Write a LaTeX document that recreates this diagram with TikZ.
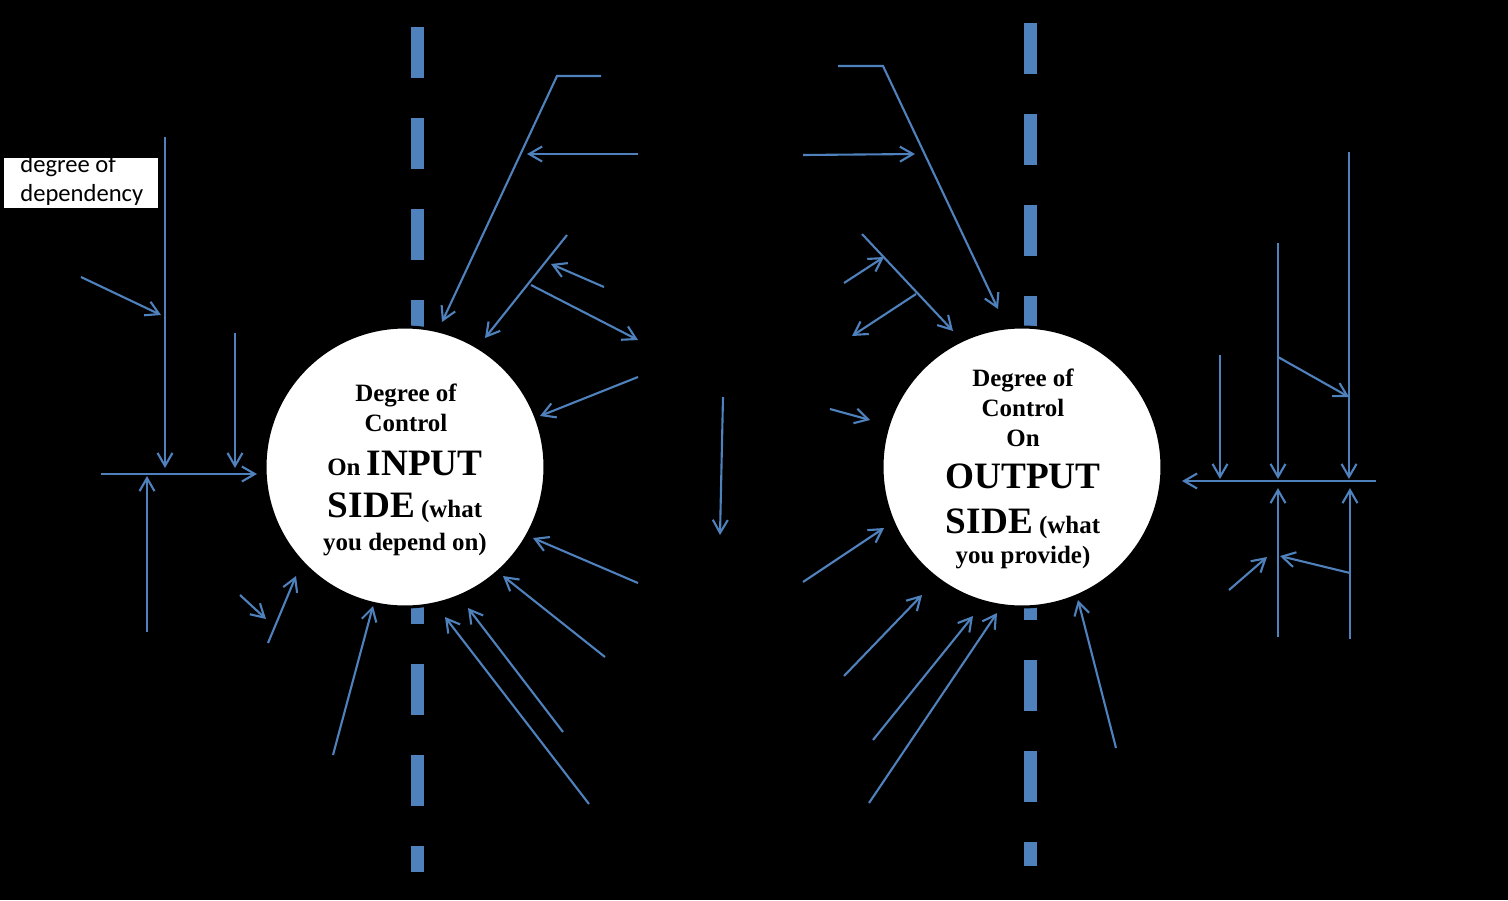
\documentclass[tikz,border=0pt]{standalone}
\usepackage{fontspec}
\setmainfont{Liberation Serif}
\newfontfamily\calfont{Carlito}
\usetikzlibrary{arrows.meta}
\definecolor{lineblue}{HTML}{4F81BD}
\newcommand\bigsz{\fontsize{21.2}{25}\selectfont}
\begin{document}
\begin{tikzpicture}[x=0.02cm,y=-0.02cm,
  arr/.style={draw=lineblue, line width=1.2pt, -{Straight Barb[length=0.26cm,width=0.3cm]}},
  ln/.style={draw=lineblue, line width=1.2pt},
  dashline/.style={draw=lineblue, line width=0.26cm, dash pattern=on 1.03cm off 0.79cm},
  bubble/.style={circle, fill=white, draw=black, line width=0.06cm, minimum size=5.6cm, inner sep=0pt},
  ctext/.style={font=\bfseries\fontsize{14.2}{17}\selectfont, anchor=base, inner sep=0pt, text=black},
  dep/.style={font=\calfont\fontsize{14}{17}\selectfont, anchor=base west, inner sep=0pt, text=black}
]
% background
\fill[black] (0,0) rectangle (1508,900);
\useasboundingbox (0,0) rectangle (1508,900);

% dashed separators
\draw[dashline] (417,27) -- (417,872);
\draw[dashline] (1030,23) -- (1030,866);

% circles
\node[bubble] (inC) at (405,467) {};
\node[bubble] (outC) at (1022,467) {};

% circle texts (input)
\node[ctext] (i1) at (406,401) {Degree of};
\node[ctext] (i2) at (406,431) {Control};
\node[ctext] (i3) at (405,475) {On {\bigsz INPUT}};
\node[ctext] (i4) at (405,517) {{\bigsz SIDE} (what};
\node[ctext] (i5) at (405,550) {you depend on)};
% circle texts (output)
\node[ctext] (o1) at (1023,386) {Degree of};
\node[ctext] (o2) at (1023,416) {Control};
\node[ctext] (o3) at (1023,446) {On};
\node[ctext] (o4) at (1023,488) {{\bigsz OUTPUT}};
\node[ctext] (o5) at (1023,533) {{\bigsz SIDE} (what};
\node[ctext] (o6) at (1023,563) {you provide)};

% dependency label box
\fill[white] (4,158) rectangle (158,208);
\begin{scope}
  \clip (4,158) rectangle (158,208);
  \node[dep] (d1) at (20,172) {degree of};
  \node[dep] (d2) at (20,201) {dependency};
\end{scope}

% ---- left group ----
\draw[arr] (165,137) -- (165,468);
\draw[arr] (81,277) -- (161,315);
\draw[arr] (235,333) -- (235,468);
\draw[arr] (101,474) -- (257,474);
\draw[arr] (147,632) -- (147,476);
\draw[arr] (240,595) -- (266,619);
\draw[arr] (268,643) -- (296,576);

% ---- top middle-left ----
\draw[arr] (601,76) -- (557,76) -- (442,322);
\draw[arr] (638,154) -- (527,154);
\draw[arr] (567,235) -- (485,338);
\draw[arr] (604,287) -- (551,264);
\draw[arr] (531,285) -- (638,340);
\draw[arr] (638,377) -- (540,416);

% ---- bottom middle-left ----
\draw[arr] (638,583) -- (533,538);
\draw[arr] (605,657) -- (503,576);
\draw[arr] (563,732) -- (468,608);
\draw[arr] (589,804) -- (445,617);
\draw[arr] (333,755) -- (373,606);

% ---- middle ----
\draw[arr] (723,397) -- (720,535);
\draw[arr] (830,409) -- (870,420);
\draw[arr] (803,582) -- (884,528);

% ---- top middle-right ----
\draw[arr] (838,66) -- (883,66) -- (998,309);
\draw[arr] (803,155) -- (915,154);
\draw[arr] (862,234) -- (953,331);
\draw[arr] (844,283) -- (884,257);
\draw[arr] (916,294) -- (852,336);

% ---- bottom middle-right ----
\draw[arr] (844,676) -- (922,595);
\draw[arr] (873,740) -- (973,616);
\draw[arr] (869,803) -- (997,613);
\draw[arr] (1116,748) -- (1078,600);

% ---- right group ----
\draw[arr] (1376,481) -- (1182,481);
\draw[arr] (1220,355) -- (1220,479);
\draw[arr] (1278,243) -- (1278,479);
\draw[arr] (1349,152) -- (1349,479);
\draw[arr] (1278,357) -- (1349,397);
\draw[arr] (1278,637) -- (1278,488);
\draw[arr] (1350,639) -- (1350,488);
\draw[arr] (1350,573) -- (1280,556);
\draw[arr] (1229,590) -- (1267,557);
\end{tikzpicture}
\end{document}
